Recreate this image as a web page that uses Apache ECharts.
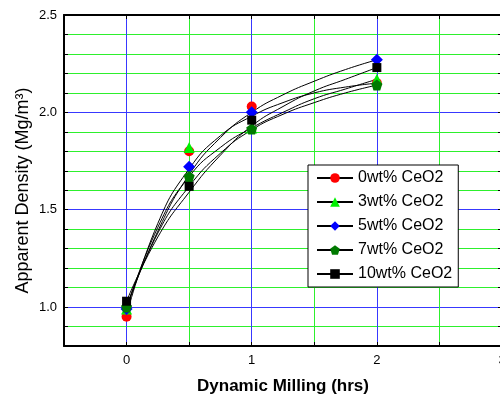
<!DOCTYPE html>
<html>
<head>
<meta charset="utf-8">
<script src="https://cdn.jsdelivr.net/npm/echarts@6/dist/echarts.min.js"></script>
<style>
html, body {margin:0; padding:0; background:#fff;}
#chart {width:500px; height:401px;}
</style>
</head>
<body>
<div id="chart"></div>
<script>
// milling time of the measured points (hrs)
var hours = [0, 0.5, 1, 2];
// measured apparent density, one list per CeO2 content
var ceo2_0 = [0.95, 1.80, 2.03, 2.15];
var ceo2_3 = [0.99, 1.82, 1.92, 2.17];
var ceo2_5 = [0.99, 1.72, 2.00, 2.27];
var ceo2_7 = [1.00, 1.67, 1.915, 2.14];
var ceo2_10 = [1.03, 1.62, 1.96, 2.23];

// fitted curves
var fit_hours = [0, 0.25, 0.5, 0.75, 1, 1.25, 1.5, 1.75, 2];
var fit_0 = [0.96, 1.43, 1.71, 1.88, 1.98, 2.05, 2.10, 2.13, 2.15];
var fit_3 = [0.99, 1.41, 1.67, 1.82, 1.92, 2.00, 2.07, 2.12, 2.17];
var fit_5 = [1.00, 1.39, 1.68, 1.87, 2.00, 2.09, 2.16, 2.22, 2.27];
var fit_7 = [1.00, 1.38, 1.62, 1.79, 1.91, 1.99, 2.05, 2.10, 2.14];
var fit_10 = [1.03, 1.36, 1.59, 1.78, 1.93, 2.03, 2.11, 2.17, 2.23];

var names = ['0wt% CeO2', '3wt% CeO2', '5wt% CeO2', '7wt% CeO2', '10wt% CeO2'];
var colors = ['#ff0000', '#00f000', '#0000ff', '#007a00', '#000000'];
var pentagon = 'path://M0,-1 L0.951,-0.309 L0.588,0.809 L-0.588,0.809 L-0.951,-0.309 Z';
var symbols = ['circle', 'triangle', 'diamond', pentagon, 'rect'];
var sizes = [10, 11, 12, 11, 9];

var measured = [ceo2_0, ceo2_3, ceo2_5, ceo2_7, ceo2_10];
var fits = [fit_0, fit_3, fit_5, fit_7, fit_10];

var green = '#2df02d';
var blue = '#3838ff';

var zip = function(xs, ys){
    return xs.map(function(x, i){ return [x, ys[i]]; });
};

var myChart = echarts.init(document.getElementById('chart'));

var series = [];
names.forEach(function(name, i){
    series.push({
        name: name,
        type: 'line',
        data: zip(fit_hours, fits[i]),
        smooth: 0.5,
        symbol: symbols[i],
        showSymbol: false,
        itemStyle: {color: colors[i]},
        lineStyle: {color: '#000', width: 1},
        emphasis: {disabled: true},
        silent: true,
        z: 3
    });
});
names.forEach(function(name, i){
    series.push({
        name: name,
        type: 'scatter',
        data: zip(hours, measured[i]),
        symbol: symbols[i],
        symbolSize: sizes[i],
        itemStyle: {color: colors[i], opacity: 1},
        z: 4
    });
});

var tick = {show: true, inside: true, length: 4, lineStyle: {color: '#000', width: 1}};
var line = {show: true, onZero: false, lineStyle: {color: '#000', width: 2}};

var option = {
    animation: false,
    backgroundColor: '#fff',
    grid: {left: 64, right: -2, top: 15, bottom: 55, outerBoundsMode: 'none', containLabel: false},
    legend: {
        data: names,
        orient: 'vertical',
        left: 308,
        top: 165,
        itemWidth: 36,
        itemHeight: 12,
        itemGap: 8,
        itemStyle: {borderWidth: 0},
        padding: [5, 6, 5, 8],
        backgroundColor: '#fff',
        borderColor: '#000',
        borderWidth: 1,
        textStyle: {fontFamily: 'Liberation Sans, Arial', fontSize: 16, color: '#000'}
    },
    xAxis: [{
        type: 'value',
        min: -0.5,
        max: 3,
        interval: 0.5,
        name: 'Dynamic Milling (hrs)',
        nameLocation: 'middle',
        nameGap: 32,
        nameMoveOverlap: false,
        nameTextStyle: {fontFamily: 'Liberation Sans, Arial', fontSize: 17, fontWeight: 'bold', color: '#000'},
        axisLine: line,
        axisTick: tick,
        axisLabel: {
            margin: 8,
            fontFamily: 'Liberation Sans, Arial', fontSize: 13, color: '#000',
            formatter: function(v){ return (v >= 0 && Math.abs(v - Math.round(v)) < 1e-6) ? String(Math.round(v)) : ''; }
        },
        splitLine: {show: true, lineStyle: {color: [green, blue], width: 1}}
    }, {
        type: 'value',
        position: 'top',
        min: -0.5,
        max: 3,
        interval: 0.5,
        axisLine: line,
        axisTick: tick,
        axisLabel: {show: false},
        splitLine: {show: false}
    }],
    yAxis: [{
        type: 'value',
        min: 0.8,
        max: 2.5,
        interval: 0.1,
        name: 'Apparent Density (Mg/m³)',
        nameLocation: 'middle',
        nameGap: 32,
        nameMoveOverlap: false,
        nameTextStyle: {fontFamily: 'Liberation Sans, Arial', fontSize: 18, color: '#000', padding: [0, 20, 0, 0]},
        axisLine: line,
        axisTick: tick,
        axisLabel: {
            margin: 7,
            fontFamily: 'Liberation Sans, Arial', fontSize: 13, color: '#000',
            formatter: function(v){ return Math.abs(v * 2 - Math.round(v * 2)) < 1e-6 ? v.toFixed(1) : ''; }
        },
        splitLine: {show: true, lineStyle: {color: [green, green, blue, green, green], width: 1}}
    }, {
        type: 'value',
        position: 'right',
        min: 0.8,
        max: 2.5,
        interval: 0.1,
        axisLine: line,
        axisTick: tick,
        axisLabel: {show: false},
        splitLine: {show: false}
    }],
    series: series
};

myChart.setOption(option);
</script>
</body>
</html>
